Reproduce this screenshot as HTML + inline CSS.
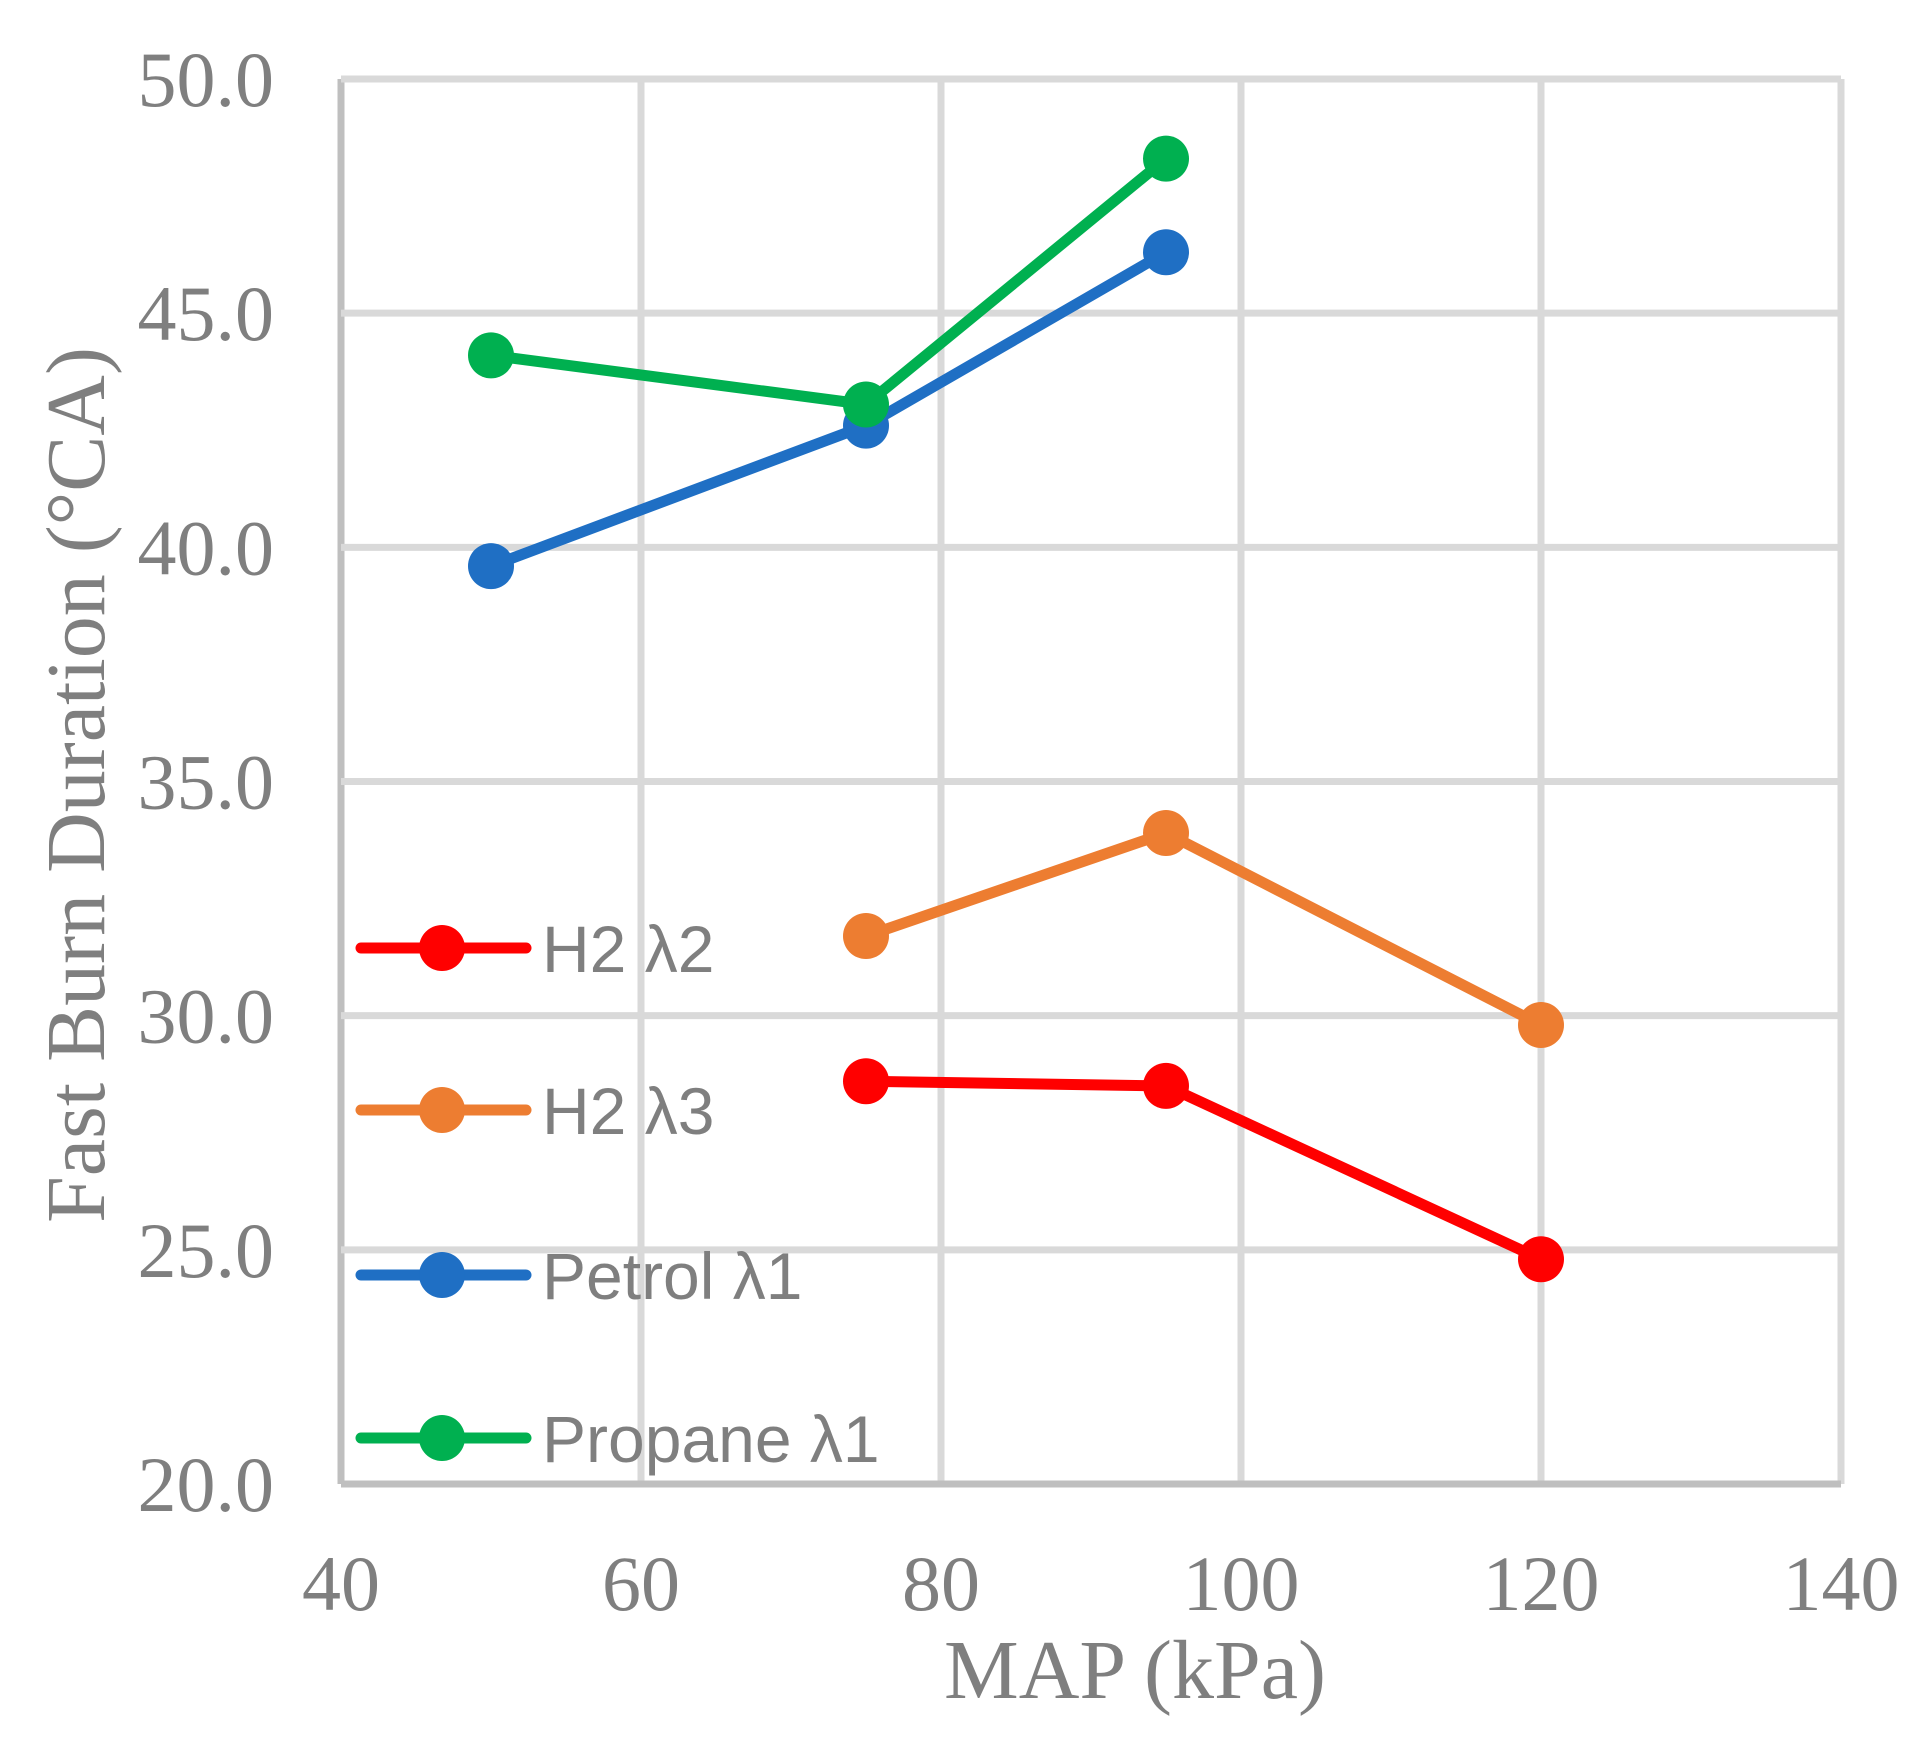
<!DOCTYPE html>
<html><head><meta charset="utf-8"><style>html,body{margin:0;padding:0;background:#fff;}svg{display:block;}</style></head>
<body>
<svg id="chart" width="1931" height="1742" viewBox="0 0 1931 1742" xmlns="http://www.w3.org/2000/svg">
<g id="grid"></g>
<g id="axes"></g>
<g id="series"></g>
<g id="legend"></g>
<text x="1135" y="1698" text-anchor="middle" font-family="Liberation Serif, serif" font-size="84" fill="#7f7f7f">MAP (kPa)</text>
<text transform="translate(104,785) rotate(-90)" text-anchor="middle" font-family="Liberation Serif, serif" font-size="84" fill="#7f7f7f">Fast Burn Duration (°CA)</text>
</svg>
<script>
const xTicks = [40, 60, 80, 100, 120, 140];
const yTicks = [20, 25, 30, 35, 40, 45, 50];
const yTickLabels = ["20.0","25.0","30.0","35.0","40.0","45.0","50.0"];
const seriesNames = ["H2 λ2", "H2 λ3", "Petrol λ1", "Propane λ1"];
const seriesColors = ["#ff0000", "#ed7d31", "#1f6fc4", "#00b050"];
const h2l2X = [75, 95, 120];
const h2l2Y = [28.6, 28.5, 24.8];
const h2l3X = [75, 95, 120];
const h2l3Y = [31.7, 33.9, 29.8];
const petrolX = [50, 75, 95];
const petrolY = [39.6, 42.6, 46.3];
const propaneX = [50, 75, 95];
const propaneY = [44.1, 43.05, 48.3];

const NS = "http://www.w3.org/2000/svg";
const L = 341, R = 1841, T = 79, B = 1484;
function xs(v){ return L + (v - 40) / 100 * (R - L); }
function ys(v){ return B - (v - 20) / 30 * (B - T); }
function mk(tag, attrs, parent){ const e = document.createElementNS(NS, tag); for (const k in attrs) e.setAttribute(k, attrs[k]); parent.appendChild(e); return e; }

const grid = document.getElementById('grid');
const axes = document.getElementById('axes');
xTicks.forEach((t, i) => {
  const ln = mk('line', {x1: xs(t), x2: xs(t), y1: T, y2: B, stroke: i === 0 ? '#bfbfbf' : '#d9d9d9', 'stroke-width': 7}, grid);
  
  
  const tx = mk('text', {x: xs(t), y: 1610, 'text-anchor': 'middle', 'font-family': 'Liberation Serif, serif', 'font-size': 78, fill: '#7f7f7f'}, axes);
  tx.textContent = t;
  
  
});
yTicks.forEach((t, i) => {
  const ln = mk('line', {x1: L, x2: R, y1: ys(t), y2: ys(t), stroke: i === 0 ? '#bfbfbf' : '#d9d9d9', 'stroke-width': 7}, grid);
  
  
  const tx = mk('text', {x: 274, y: ys(t) + 27, 'text-anchor': 'end', 'font-family': 'Liberation Serif, serif', 'font-size': 78, fill: '#7f7f7f'}, axes);
  tx.textContent = yTickLabels[i];
  
  
});

const seriesX = [h2l2X, h2l3X, petrolX, propaneX];
const seriesY = [h2l2Y, h2l3Y, petrolY, propaneY];
const sg = document.getElementById('series');
const order = [2, 3, 1, 0];
order.forEach(s => {
  const g = mk('g', {}, sg);
  
  
  const pts = seriesX[s].map((x, i) => xs(x) + ',' + ys(seriesY[s][i])).join(' ');
  const pl = mk('polyline', {points: pts, fill: 'none', stroke: seriesColors[s], 'stroke-width': 11, 'stroke-linejoin': 'round', 'stroke-linecap': 'round'}, g);
  
  
  seriesX[s].forEach((x, i) => {
    const c = mk('circle', {cx: xs(x), cy: ys(seriesY[s][i]), r: 23, fill: seriesColors[s]}, g);
    
    
  });
});

const lg = document.getElementById('legend');
const legY = [948, 1110, 1275, 1438];
seriesNames.forEach((n, i) => {
  const g = mk('g', {}, lg);
  
  
  mk('line', {x1: 361, x2: 526, y1: legY[i], y2: legY[i], stroke: seriesColors[i], 'stroke-width': 11, 'stroke-linecap': 'round'}, g);
  mk('circle', {cx: 442, cy: legY[i], r: 23, fill: seriesColors[i]}, g);
  const t = mk('text', {x: 542, y: legY[i] + 24, 'font-family': 'Liberation Sans, sans-serif', 'font-size': 66, fill: '#7f7f7f'}, g);
  t.textContent = n;
  
  
});
</script>
</body></html>
